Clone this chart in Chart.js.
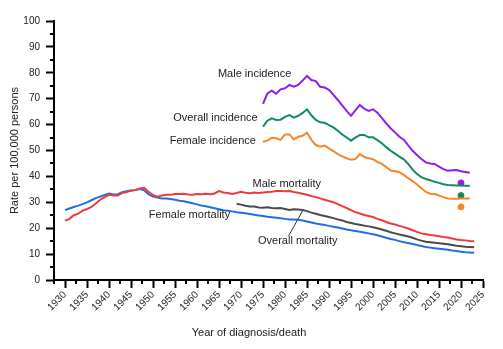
<!DOCTYPE html>
<html>
<head>
<meta charset="utf-8">
<script src="https://cdn.jsdelivr.net/npm/chart.js@4.4.1/dist/chart.umd.min.js"></script>
<style>
  html, body { margin: 0; padding: 0; background: #fff; }
  canvas { display: block; }
</style>
</head>
<body>
<canvas id="chart" width="503" height="349"></canvas>
<script>
// ---- data ----
const mortalityStart = 1930;   // male & female mortality, one value per year
const overallMortalityStart = 1969;
const incidenceStart = 1975;

const femaleMortality = [
  27.0, 27.6, 28.2, 28.7, 29.3, 30.0, 30.8, 31.6, 32.2, 32.8,
  33.4, 33.0, 33.1, 33.9, 34.3, 34.6, 34.7, 35.1, 34.6, 33.0,
  32.2, 31.8, 31.5, 31.5, 31.3, 31.0, 30.6, 30.4, 30.0, 29.6,
  29.2, 28.8, 28.5, 28.1, 27.7, 27.3, 26.9, 26.7, 26.5, 26.2,
  26.0, 25.8, 25.5, 25.2, 24.9, 24.7, 24.4, 24.2, 24.0, 23.8,
  23.6, 23.4, 23.4, 23.3, 23.0, 22.6, 22.2, 21.8, 21.5, 21.2,
  20.9, 20.6, 20.3, 19.9, 19.5, 19.2, 18.9, 18.6, 18.3, 18.0,
  17.7, 17.3, 16.8, 16.3, 15.8, 15.5, 15.0, 14.6, 14.3, 13.9,
  13.5, 13.1, 12.7, 12.5, 12.3, 12.1, 11.9, 11.7, 11.4, 11.2,
  10.9, 10.7, 10.6, 10.5
];

const maleMortality = [
  22.9, 23.6, 25.0, 25.6, 26.8, 27.4, 28.2, 29.5, 31.0, 32.0,
  32.9, 32.6, 32.6, 33.6, 34.0, 34.5, 34.8, 35.3, 35.6, 34.0,
  32.8, 32.2, 32.6, 32.9, 32.9, 33.2, 33.2, 33.3, 33.0, 32.9,
  33.2, 33.1, 33.3, 33.1, 33.4, 34.3, 33.8, 33.6, 33.2, 33.6,
  34.1, 33.7, 33.5, 33.8, 33.6, 33.8, 34.0, 34.1, 34.4, 34.4,
  34.3, 34.4, 34.0, 33.7, 33.3, 32.9, 32.4, 32.0, 31.5, 31.0,
  30.5, 30.0, 29.3, 28.5, 27.8, 27.0, 26.2, 25.7, 25.1, 24.7,
  24.3, 23.6, 23.1, 22.4, 21.8, 21.4, 20.9, 20.4, 19.9, 19.2,
  18.6, 18.0, 17.7, 17.4, 17.2, 16.9, 16.6, 16.4, 16.0, 15.6,
  15.4, 15.3, 15.1, 15.0
];

const overallMortality = [
  29.4, 29.1, 28.7, 28.4, 28.4, 28.0, 27.9, 28.1, 27.8, 27.7,
  27.8, 27.4, 27.0, 27.3, 27.2, 27.0, 26.6, 26.0, 25.6, 25.1,
  24.7, 24.3, 23.9, 23.4, 23.0, 22.4, 22.0, 21.6, 21.3, 21.0,
  20.7, 20.4, 20.0, 19.5, 19.0, 18.4, 18.0, 17.6, 17.2, 16.8,
  16.3, 15.7, 15.2, 14.8, 14.6, 14.4, 14.2, 14.0, 13.8, 13.5,
  13.2, 13.0, 12.8, 12.7, 12.6
];

const maleIncidence = [
  68.0, 72.0, 73.1, 71.9, 73.6, 74.0, 75.3, 74.6, 75.3, 77.0,
  78.8, 77.2, 76.8, 74.6, 74.3, 73.4, 71.5, 69.5, 67.4, 65.3,
  63.4, 65.5, 67.6, 66.2, 65.3, 65.9, 64.6, 62.6, 60.5, 58.6,
  57.0, 55.3, 54.2, 52.0, 49.9, 48.3, 46.7, 45.4, 45.0, 44.8,
  43.8, 42.8, 42.2, 42.4, 42.5, 42.0, 41.7, 41.4
];

const overallIncidence = [
  59.2, 61.5, 62.4, 61.8, 61.9, 63.0, 63.7, 62.7, 63.4, 64.5,
  65.9, 63.6, 61.8, 60.9, 60.7, 59.8, 58.9, 57.6, 56.2, 55.0,
  53.8, 55.0, 56.0, 56.0, 55.1, 55.1, 54.0, 52.8, 51.3, 49.9,
  48.8, 47.6, 46.6, 44.8, 42.6, 40.9, 39.7, 39.0, 38.5, 37.9,
  37.5, 37.0, 36.7, 36.6, 36.5, 36.5, 36.4, 36.4
];

const femaleIncidence = [
  53.4, 53.8, 54.9, 54.7, 54.1, 56.2, 56.2, 54.3, 55.3, 55.7,
  56.9, 54.1, 52.1, 51.5, 51.9, 50.8, 49.8, 48.6, 47.7, 47.0,
  46.4, 46.7, 48.6, 47.6, 47.0, 46.6, 45.6, 44.8, 43.6, 42.3,
  42.0, 41.6, 40.6, 39.3, 38.2, 36.9, 35.4, 34.0, 33.3, 33.2,
  32.6, 32.0, 31.5, 31.4, 31.4, 31.5, 31.5, 31.5
];

// observed 2020 incidence points
const year2020 = 2020;
const male2020 = 37.5;
const overall2020 = 32.6;
const female2020 = 28.2;

// axis ticks
const xMajorTicks = [1930, 1935, 1940, 1945, 1950, 1955, 1960, 1965, 1970, 1975,
  1980, 1985, 1990, 1995, 2000, 2005, 2010, 2015, 2020, 2025];
const xMinorTicks = [1927.5, 1932.5, 1937.5, 1942.5, 1947.5, 1952.5, 1957.5, 1962.5,
  1967.5, 1972.5, 1977.5, 1982.5, 1987.5, 1992.5, 1997.5, 2002.5, 2007.5, 2012.5,
  2017.5, 2022.5];
const yMajorTicks = [0, 10, 20, 30, 40, 50, 60, 70, 80, 90, 100];
const yMinorTicks = [5, 15, 25, 35, 45, 55, 65, 75, 85, 95];

// ---- helpers ----
const toPoints = (start, values) => values.map((v, i) => ({ x: start + i, y: v }));

const FONT = '"Liberation Sans", Arial, Helvetica, sans-serif';
const TEXT = '#222';

const colors = {
  maleInc: '#8e1df2',
  overallInc: '#138a5f',
  femaleInc: '#f5862a',
  maleMort: '#ee3a3f',
  overallMort: '#4a4a4a',
  femaleMort: '#1f6fe3'
};

// in-plot series labels, placed in data coordinates
const seriesLabels = [
  { text: 'Male incidence',    x: 1973.1, y: 79.5 },
  { text: 'Overall incidence', x: 1964.2, y: 62.7 },
  { text: 'Female incidence',  x: 1963.6, y: 53.7 },
  { text: 'Male mortality',    x: 1980.4, y: 36.9 },
  { text: 'Female mortality',  x: 1958.3, y: 25.1 },
  { text: 'Overall mortality', x: 1982.9, y: 15.1 }
];
const leader = { from: { x: 1980.8, y: 17.0 }, to: { x: 1984.1, y: 27.0 } };

// minor ticks and text labels drawn via the chart scales
const extrasPlugin = {
  id: 'extras',
  afterDraw(chart) {
    const { ctx, scales: { x, y } } = chart;
    ctx.save();
    ctx.strokeStyle = '#000';
    ctx.lineWidth = 2;
    ctx.beginPath();
    xMinorTicks.forEach(v => {
      const px = Math.round(x.getPixelForValue(v));
      ctx.moveTo(px, y.bottom);
      ctx.lineTo(px, y.bottom + 4);
    });
    yMinorTicks.forEach(v => {
      const py = Math.round(y.getPixelForValue(v));
      ctx.moveTo(x.left, py);
      ctx.lineTo(x.left - 4, py);
    });
    ctx.stroke();

    // leader line for the overall mortality label
    ctx.strokeStyle = '#333';
    ctx.lineWidth = 1;
    ctx.beginPath();
    ctx.moveTo(x.getPixelForValue(leader.from.x), y.getPixelForValue(leader.from.y));
    ctx.lineTo(x.getPixelForValue(leader.to.x), y.getPixelForValue(leader.to.y));
    ctx.stroke();

    ctx.fillStyle = TEXT;
    ctx.font = '11px ' + FONT;
    ctx.textAlign = 'center';
    ctx.textBaseline = 'middle';
    seriesLabels.forEach(l => {
      ctx.fillText(l.text, x.getPixelForValue(l.x), y.getPixelForValue(l.y));
    });
    ctx.restore();
  }
};

const line = (label, data, color) => ({
  type: 'line', label, data,
  borderColor: color, borderWidth: 2,
  pointRadius: 0, fill: false, tension: 0
});
const dot = (label, value, color) => ({
  type: 'scatter', label, data: [{ x: year2020, y: value }],
  backgroundColor: color, borderColor: color, pointRadius: 3, pointHoverRadius: 3
});

Chart.defaults.font.family = FONT;
Chart.defaults.color = TEXT;

new Chart(document.getElementById('chart'), {
  data: {
    datasets: [
      line('Male mortality', toPoints(mortalityStart, maleMortality), colors.maleMort),
      line('Female mortality', toPoints(mortalityStart, femaleMortality), colors.femaleMort),
      line('Overall mortality', toPoints(overallMortalityStart, overallMortality), colors.overallMort),
      line('Female incidence', toPoints(incidenceStart, femaleIncidence), colors.femaleInc),
      line('Overall incidence', toPoints(incidenceStart, overallIncidence), colors.overallInc),
      line('Male incidence', toPoints(incidenceStart, maleIncidence), colors.maleInc),
      dot('Male incidence 2020', male2020, colors.maleInc),
      dot('Overall incidence 2020', overall2020, colors.overallInc),
      dot('Female incidence 2020', female2020, colors.femaleInc)
    ]
  },
  options: {
    responsive: false,
    animation: false,
    events: [],
    layout: { padding: { top: 21, right: 5, bottom: 9, left: 0 } },
    plugins: {
      legend: { display: false },
      tooltip: { enabled: false },
      title: {
        display: true,
        position: 'bottom',
        text: 'Year of diagnosis/death',
        color: TEXT,
        font: { size: 11, weight: 'normal' },
        padding: 0
      }
    },
    scales: {
      x: {
        type: 'linear',
        min: 1927.5,
        max: 2025,
        afterBuildTicks: s => { s.ticks = xMajorTicks.map(v => ({ value: v })); },
        afterFit: s => {
          s.height = 349 - 9 - 13.2 - 280;
          s.paddingLeft = 0;
          s.paddingRight = 20;
        },
        ticks: {
          minRotation: 45, maxRotation: 45, autoSkip: false,
          padding: 1,
          color: TEXT,
          font: { size: 10 },
          callback: v => String(v)
        },
        grid: {
          drawOnChartArea: false, drawTicks: true,
          tickLength: 8, tickColor: '#000', tickWidth: 2
        },
        border: { color: '#000', width: 2 }
      },
      y: {
        min: 0,
        max: 100,
        afterBuildTicks: s => { s.ticks = yMajorTicks.map(v => ({ value: v })); },
        afterFit: s => {
          s.width = 54;
          s.paddingTop = 0;
          s.paddingBottom = 0;
        },
        ticks: { padding: 6, color: TEXT, font: { size: 10 } },
        grid: {
          drawOnChartArea: false, drawTicks: true,
          tickLength: 8, tickColor: '#000', tickWidth: 2
        },
        border: { color: '#000', width: 2 },
        title: {
          display: true,
          text: 'Rate per 100,000 persons',
          color: TEXT,
          font: { size: 11 },
          padding: { top: 8, bottom: 0 }
        }
      }
    }
  },
  plugins: [extrasPlugin]
});
</script>
</body>
</html>
